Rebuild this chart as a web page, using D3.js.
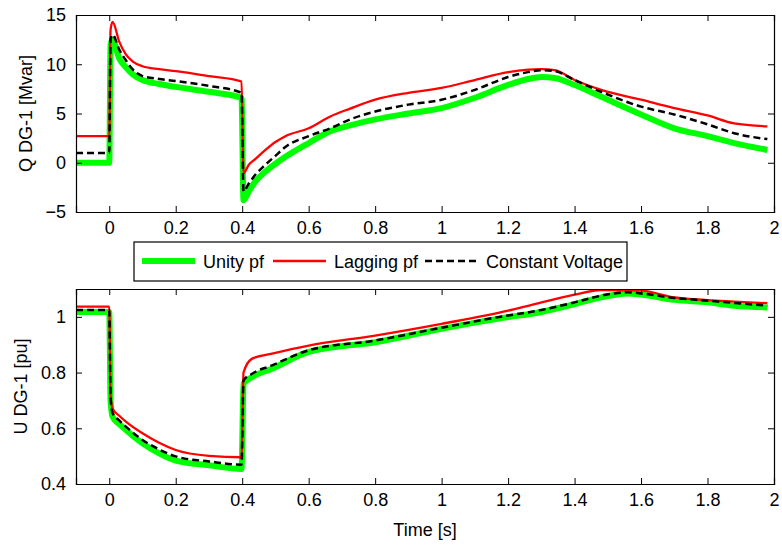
<!DOCTYPE html>
<html>
<head>
<meta charset="utf-8">
<script src="https://cdn.jsdelivr.net/npm/d3@7"></script>
<style>
  body { margin: 0; background: #fff; }
  text { font-family: "Liberation Sans", Arial, sans-serif; }
</style>
</head>
<body>
<div id="chart"></div>
<script>
// page size
const width = 782;
const height = 545;

// top panel data (Q DG-1 in Mvar)
const timeQ = [-0.1, 0, 0.004, 0.01, 0.03, 0.05, 0.07, 0.1, 0.15, 0.2, 0.3, 0.398, 0.404, 0.42, 0.44, 0.47, 0.5, 0.53, 0.6, 0.665, 0.725, 0.8, 0.9, 1.0, 1.1, 1.2, 1.26, 1.3, 1.34, 1.4, 1.48, 1.6, 1.7, 1.8, 1.88, 1.98];
const unityQ = [0, 0, 12.0, 12.5, 10.6, 9.7, 9.0, 8.4, 8.0, 7.7, 7.2, 6.6, -3.8, -2.9, -1.9, -0.9, -0.1, 0.6, 2.0, 3.2, 3.8, 4.4, 5.0, 5.55, 6.6, 7.9, 8.5, 8.7, 8.6, 7.9, 6.7, 4.9, 3.5, 2.7, 2.0, 1.3];
const laggingQ = [2.7, 2.7, 13.5, 14.3, 12.3, 11.0, 10.3, 9.8, 9.5, 9.3, 8.8, 8.25, -1.05, -0.2, 0.4, 1.3, 2.1, 2.7, 3.5, 4.7, 5.5, 6.4, 7.1, 7.6, 8.4, 9.2, 9.45, 9.5, 9.4, 8.4, 7.4, 6.4, 5.55, 4.8, 4.0, 3.7];
const constQ = [1.0, 1.0, 12.5, 13.0, 11.5, 10.4, 9.5, 8.8, 8.5, 8.3, 7.8, 7.1, -2.9, -2.1, -1.2, -0.2, 0.7, 1.6, 2.7, 3.5, 4.4, 5.2, 5.9, 6.4, 7.4, 8.7, 9.2, 9.4, 9.3, 8.4, 7.2, 5.7, 4.9, 3.9, 3.0, 2.4];

// bottom panel data (U DG-1 in pu)
const timeU = [-0.1, 0, 0.004, 0.01, 0.03, 0.05, 0.1, 0.15, 0.2, 0.3, 0.398, 0.404, 0.43, 0.49, 0.6, 0.8, 1.0, 1.2, 1.28, 1.4, 1.48, 1.56, 1.6, 1.7, 1.8, 1.88, 1.98];
const unityU = [1.017, 1.017, 0.70, 0.641, 0.615, 0.594, 0.546, 0.51, 0.484, 0.467, 0.454, 0.76, 0.784, 0.814, 0.874, 0.909, 0.957, 0.999, 1.013, 1.046, 1.07, 1.084, 1.08, 1.061, 1.052, 1.04, 1.034];
const laggingU = [1.037, 1.037, 0.72, 0.67, 0.645, 0.624, 0.582, 0.548, 0.522, 0.501, 0.496, 0.80, 0.85, 0.868, 0.897, 0.933, 0.975, 1.022, 1.046, 1.08, 1.096, 1.095, 1.094, 1.07, 1.06, 1.055, 1.049];
const constU = [1.025, 1.025, 0.71, 0.655, 0.628, 0.606, 0.558, 0.524, 0.499, 0.481, 0.469, 0.772, 0.796, 0.826, 0.88, 0.915, 0.961, 1.005, 1.02, 1.052, 1.076, 1.088, 1.084, 1.068, 1.058, 1.05, 1.04];

// ticks and labels
const xTicks = [0, 0.2, 0.4, 0.6, 0.8, 1, 1.2, 1.4, 1.6, 1.8, 2];
const qTicks = [-5, 0, 5, 10, 15];
const uTicks = [0.4, 0.6, 0.8, 1];
const legendNames = ["Unity pf", "Lagging pf", "Constant Voltage"];

// line styles for the three cases
const styles = [
  { color: "#00ff00", width: 6, dash: null },
  { color: "#ff0000", width: 2.3, dash: null },
  { color: "#000000", width: 2.5, dash: "7,4" }
];

const fontSize = "18px";

const svg = d3.select("#chart").append("svg").attr("width", width).attr("height", height);

const left = 76, right = 774;
const xscale = d3.scaleLinear().domain([-0.1, 2]).range([left, right]);

// draws one panel with box, ticks on all sides, and its lines
function drawPanel(id, top, bottom, ydomain, yTicks, times, series, ylabel, labelX) {
  const yscale = d3.scaleLinear().domain(ydomain).range([bottom, top]);
  const g = svg.append("g").attr("id", id);

  g.append("clipPath").attr("id", id + "-clip")
    .append("rect").attr("x", left).attr("y", top).attr("width", right - left).attr("height", bottom - top);

  const line = vals => d3.line()
    .x((d, i) => xscale(times[i]))
    .y(d => yscale(d))
    .curve(d3.curveMonotoneX)(vals);

  const lines = g.append("g").attr("clip-path", `url(#${id}-clip)`);
  series.forEach((vals, k) => {
    lines.append("path")
      .attr("d", line(vals))
      .attr("fill", "none")
      .attr("stroke", styles[k].color)
      .attr("stroke-width", styles[k].width)
      .attr("stroke-dasharray", styles[k].dash)
      .attr("stroke-linejoin", "round");
  });

  const fmt = d => d3.format("~g")(d);
  const tick = 6;
  // axes with inward ticks
  g.append("g").attr("transform", `translate(0,${bottom})`)
    .call(d3.axisBottom(xscale).tickValues(xTicks).tickSize(-tick).tickPadding(9).tickFormat(fmt));
  g.append("g").attr("transform", `translate(0,${top})`)
    .call(d3.axisTop(xscale).tickValues(xTicks).tickSize(-tick).tickFormat(""));
  g.append("g").attr("transform", `translate(${left},0)`)
    .call(d3.axisLeft(yscale).tickValues(yTicks).tickSize(-tick).tickPadding(10).tickFormat(fmt));
  g.append("g").attr("transform", `translate(${right},0)`)
    .call(d3.axisRight(yscale).tickValues(yTicks).tickSize(-tick).tickFormat(""));

  g.selectAll(".domain").attr("stroke", "#000").attr("stroke-width", 1.2);
  g.selectAll(".tick line").attr("stroke", "#000");
  g.selectAll(".tick text").style("font-size", fontSize).attr("fill", "#000")
    .style("font-family", "'Liberation Sans', Arial, sans-serif");

  g.append("text")
    .attr("transform", `translate(${labelX},${(top + bottom) / 2}) rotate(-90)`)
    .attr("text-anchor", "middle")
    .style("font-size", fontSize)
    .text(ylabel);
}

drawPanel("top", 15, 212, [-5, 15], qTicks, timeQ, [unityQ, laggingQ, constQ], "Q DG-1 [Mvar]", 32);
drawPanel("bottom", 289, 484, [0.4, 1.1], uTicks, timeU, [unityU, laggingU, constU], "U DG-1 [pu]", 27);

// x label
svg.append("text").attr("x", (left + right) / 2).attr("y", 536)
  .attr("text-anchor", "middle").style("font-size", fontSize).text("Time [s]");

// legend
const legend = svg.append("g").attr("id", "legend");
legend.append("rect").attr("x", 134).attr("y", 242).attr("width", 493).attr("height", 39)
  .attr("fill", "#fff").attr("stroke", "#000").attr("stroke-width", 1.2);
const legendX = [142, 273, 425];
legendNames.forEach((name, k) => {
  legend.append("line")
    .attr("x1", legendX[k]).attr("x2", legendX[k] + 53)
    .attr("y1", 261).attr("y2", 261)
    .attr("stroke", styles[k].color)
    .attr("stroke-width", styles[k].width)
    .attr("stroke-dasharray", styles[k].dash);
  legend.append("text").attr("x", legendX[k] + 61).attr("y", 267.5)
    .style("font-size", fontSize).text(name);
});
</script>
</body>
</html>
